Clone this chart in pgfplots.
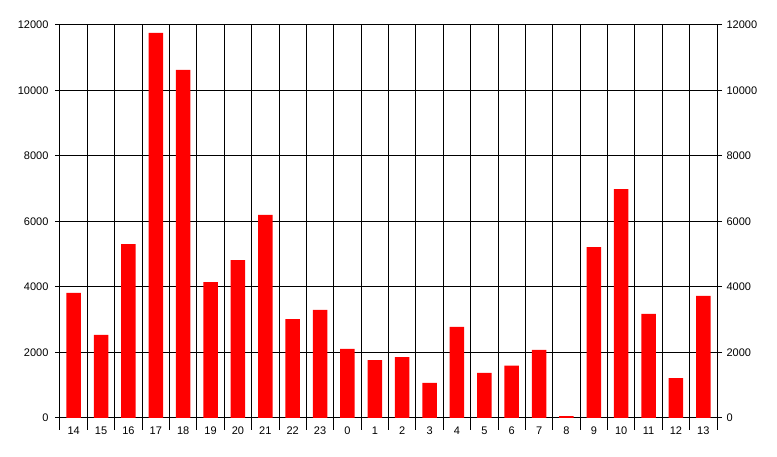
\documentclass[border=0pt]{standalone}
\usepackage{pgfplots}
\pgfplotsset{compat=1.18}
\usepackage{fontspec}
\setmainfont{Liberation Sans}
\definecolor{barred}{RGB}{255,0,0}
\begin{document}
\begin{tikzpicture}
\pgfplotsset{
 common/.style={
  at={(60pt,39pt)}, anchor=south west,
  width=657pt, height=393pt, scale only axis,
  xmin=-0.5, xmax=23.5, ymin=0, ymax=12000,
  ytick={0,2000,...,12000},
  tick align=outside, major tick length=5pt,
  /pgf/number format/assume math mode=true,
  scaled y ticks=false,
  yticklabel style={/pgf/number format/1000 sep={}},
  tick style={black, line width=1pt},
  axis line style={black, line width=1pt},
  font=\fontsize{11}{13}\selectfont,
 }
}
\begin{axis}[common,
  ybar, bar width=14.5pt,
  xtick={0,...,23},
  xticklabels={14,15,16,17,18,19,20,21,22,23,0,1,2,3,4,5,6,7,8,9,10,11,12,13},
  minor xtick={-0.5,0.5,...,23.5},
  minor tick length=12pt,
  every major x tick/.append style={draw=none},
  xminorgrids, ymajorgrids,
  major grid style={black, line width=1pt},
  minor grid style={black, line width=1pt},
  ytick pos=left, xtick pos=bottom,
  yticklabel style={xshift=-3pt},
]
\addplot[fill=barred, draw=none] coordinates {
(0,3820) (1,2540) (2,5310) (3,11760) (4,10630) (5,4150) (6,4820) (7,6200)
(8,3020) (9,3300) (10,2110) (11,1770) (12,1860) (13,1070) (14,2780) (15,1380)
(16,1600) (17,2080) (18,60) (19,5220) (20,6990) (21,3180) (22,1220) (23,3730)
};
\end{axis}
\begin{axis}[common,
  axis x line=none, axis y line*=right,
  ytick pos=right, yticklabel pos=right,
  yticklabel style={xshift=1pt},
]
\end{axis}
\pgfresetboundingbox
\path (0,0) rectangle (777pt,457pt);
\end{tikzpicture}
\end{document}
